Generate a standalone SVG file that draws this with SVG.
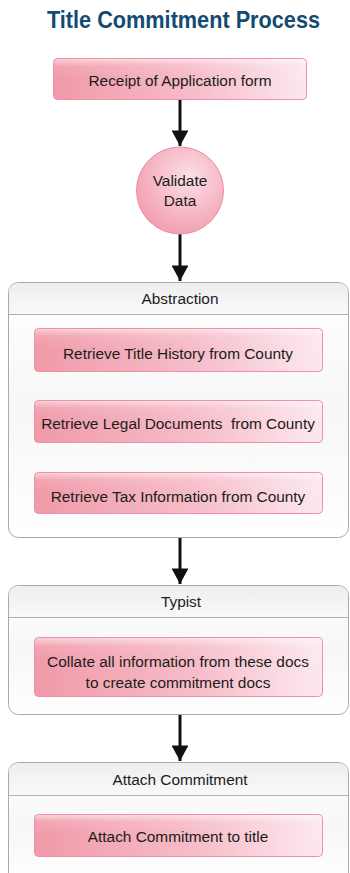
<svg xmlns="http://www.w3.org/2000/svg" width="350" height="873" viewBox="0 0 350 873">
<defs>
<linearGradient id="pinkH" x1="0" y1="0" x2="1" y2="0">
<stop offset="0" stop-color="#f09aa8"/>
<stop offset="0.55" stop-color="#f6bcc8"/>
<stop offset="1" stop-color="#fde8ef"/>
</linearGradient>
<linearGradient id="gloss" x1="0" y1="0" x2="0" y2="1">
<stop offset="0" stop-color="#ffffff" stop-opacity="0.55"/>
<stop offset="0.35" stop-color="#ffffff" stop-opacity="0.1"/>
<stop offset="1" stop-color="#ffffff" stop-opacity="0"/>
</linearGradient>
<radialGradient id="circ" cx="0.6" cy="0.35" r="0.7">
<stop offset="0" stop-color="#fcdfe6"/>
<stop offset="0.6" stop-color="#f6b7c4"/>
<stop offset="1" stop-color="#f19db0"/>
</radialGradient>
<linearGradient id="hdr" x1="0" y1="0" x2="0" y2="1">
<stop offset="0" stop-color="#eeeeee"/>
<stop offset="1" stop-color="#f9f9f9"/>
</linearGradient>
<linearGradient id="body" x1="0" y1="0" x2="0" y2="1">
<stop offset="0" stop-color="#ffffff"/>
<stop offset="0.5" stop-color="#f7f7f7"/>
<stop offset="1" stop-color="#ffffff"/>
</linearGradient>
<marker id="ah" markerWidth="5.2" markerHeight="5.6" refX="5.2" refY="2.8" orient="auto" markerUnits="strokeWidth">
<path d="M0,0 L5.2,2.8 L0,5.6 Z" fill="#111"/>
</marker>
</defs>
<style>
.t{font-family:"Liberation Sans",Arial,sans-serif;font-size:15.4px;fill:#1c1c1c;text-anchor:middle}
.box{fill:url(#pinkH);stroke:#ef8fab;stroke-width:1}
.gl{fill:url(#gloss);stroke:none}
.lane{fill:url(#body);stroke:#a9a9a9;stroke-width:1}
.hd{fill:url(#hdr);stroke:none}
.div{stroke:#b0b0b0;stroke-width:1}
.con{stroke:#111;stroke-width:3;fill:none;marker-end:url(#ah)}
</style>
<rect width="350" height="873" fill="#ffffff"/>
<text x="183.5" y="28" font-family="'Liberation Sans',Arial,sans-serif" font-weight="bold" font-size="24" fill="#124a72" text-anchor="middle" textLength="273" lengthAdjust="spacingAndGlyphs">Title Commitment Process</text>

<g id="connectors">
<line class="con" x1="180" y1="100" x2="180" y2="146"/>
<line class="con" x1="180" y1="234" x2="180" y2="281"/>
<line class="con" x1="180" y1="538" x2="180" y2="584"/>
<line class="con" x1="180" y1="715" x2="180" y2="761"/>
</g>

<g id="receipt">
<rect class="box" x="53.5" y="58.5" width="253" height="41" rx="4"/>
<rect class="gl" x="54" y="59" width="252" height="20" rx="4"/>
<text class="t" x="180" y="86">Receipt of Application form</text>
</g>

<g id="validate">
<circle cx="180" cy="190.5" r="43.5" fill="url(#circ)" stroke="#ec8aa6" stroke-width="1"/>
<text class="t" x="180" y="186">Validate</text>
<text class="t" x="180" y="206">Data</text>
</g>

<g id="abstraction">
<rect class="lane" x="8.5" y="282.5" width="340" height="255" rx="10"/>
<path class="hd" d="M9,314 V292.5 A9.5,9.5 0 0 1 18.5,283 H338.5 A9.5,9.5 0 0 1 348,292.5 V314 Z"/>
<line class="div" x1="9" y1="314.5" x2="348" y2="314.5"/>
<text class="t" x="180" y="304">Abstraction</text>
</g>
<g id="title-history">
<rect class="box" x="34.5" y="328.5" width="288" height="43" rx="4"/>
<rect class="gl" x="35" y="329" width="287" height="20" rx="4"/>
<text class="t" x="178" y="359">Retrieve Title History from County</text>
</g>
<g id="legal-docs">
<rect class="box" x="34.5" y="400.5" width="288" height="42" rx="4"/>
<rect class="gl" x="35" y="401" width="287" height="20" rx="4"/>
<text class="t" x="178" y="429" xml:space="preserve">Retrieve Legal Documents  from County</text>
</g>
<g id="tax-info">
<rect class="box" x="34.5" y="472.5" width="288" height="41" rx="4"/>
<rect class="gl" x="35" y="473" width="287" height="20" rx="4"/>
<text class="t" x="178" y="502">Retrieve Tax Information from County</text>
</g>

<g id="typist">
<rect class="lane" x="8.5" y="585.5" width="340" height="129" rx="10"/>
<path class="hd" d="M9,617 V595.5 A9.5,9.5 0 0 1 18.5,586 H338.5 A9.5,9.5 0 0 1 348,595.5 V617 Z"/>
<line class="div" x1="9" y1="617.5" x2="348" y2="617.5"/>
<text class="t" x="181" y="607">Typist</text>
</g>
<g id="collate">
<rect class="box" x="34.5" y="637.5" width="288" height="59" rx="4"/>
<rect class="gl" x="35" y="638" width="287" height="24" rx="4"/>
<text class="t" x="178" y="667">Collate all information from these docs</text>
<text class="t" x="178" y="688">to create commitment docs</text>
</g>

<g id="attach-commitment">
<rect class="lane" x="8.5" y="762.5" width="340" height="125" rx="10"/>
<path class="hd" d="M9,795 V772.5 A9.5,9.5 0 0 1 18.5,763 H338.5 A9.5,9.5 0 0 1 348,772.5 V795 Z"/>
<line class="div" x1="9" y1="795.5" x2="348" y2="795.5"/>
<text class="t" x="180" y="785">Attach Commitment</text>
</g>
<g id="attach-title">
<rect class="box" x="34.5" y="814.5" width="288" height="42" rx="4"/>
<rect class="gl" x="35" y="815" width="287" height="20" rx="4"/>
<text class="t" x="178" y="842">Attach Commitment to title</text>
</g>
</svg>
